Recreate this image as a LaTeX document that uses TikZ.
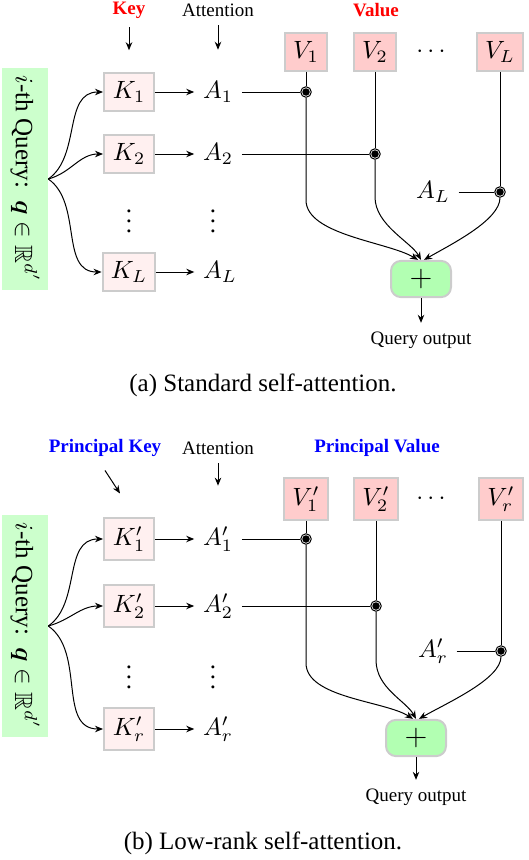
\documentclass[tikz,border=0pt]{standalone}
\usepackage{amsmath,amssymb}
\usepackage{fontspec}
\setmainfont{Liberation Serif}
\usetikzlibrary{arrows.meta,calc,positioning}

\begin{document}
\begin{tikzpicture}[x=0.4pt,y=-0.4pt,
	lab/.style={font=\fontsize{7.6}{9}\selectfont},
	kbox/.style={draw=black!20,thick,fill=red!6,minimum width=20pt},
	vbox/.style={draw=black!20,thick,fill=red!20},
	qbox/.style={fill=green!20,rotate=-90,minimum width=86.8pt,minimum height=18pt},
	sumbox/.style={draw=black!20,thick,fill=green!30,rounded corners=4pt,minimum width=24pt,minimum height=13.6pt},
	jn/.style={circle,draw,inner sep=0pt,minimum size=4.2pt,path picture={\fill (path picture bounding box.center) circle (1.5pt);}},
	arr/.style={-{Stealth[length=3.2pt,width=2.6pt]}}]
			
			\useasboundingbox (0,0) rectangle (528,860);
			
			% (a) standard self-attention
			\node[lab,red] (key) at (129,10) {\bfseries Key};
			\node[lab] (att) at (218,10) {Attention};
			\node[lab,red] (val) at (376,10) {\bfseries Value};
			
			\node[qbox] (Q) at (25,179) {$i$-th Query:\ \ $\boldsymbol{q}\in\mathbb{R}^{d'}$};
			\node[kbox] (K1) at (129,92) {$K_1$};
			\node[kbox] (K2) at (129,154) {$K_2$};
			\node (Kd) at (129,214) {$\vdots$};
			\node[kbox] (KL) at (129,272) {$K_L$};
			\node (A1) at (218,92) {$A_1$};
			\node (A2) at (218,154) {$A_2$};
			\node (Ad) at (213,214) {$\vdots$};
			\node (AL) at (220,272) {$A_L$};
			
			\node[vbox] (V1) at (306,52) {$V_1$};
			\node[vbox] (V2) at (375,52) {$V_2$};
			\node (Vd) at (433,52) {$\cdots$};
			\node[vbox] (VL) at (500,52) {$V_L$};
			\node (AL2) at (433,192) {$A_L$};
			\node[jn] (J1) at (V1 |- A1) {};
			\node[jn] (J2) at (V2 |- A2) {};
			\node[jn] (J3) at (VL |- AL2) {};
			\node[sumbox] (P) at (421,279) {\large$+$};
			\node[lab] (out) at (421,340) {Query output};
			\node (capA) at (263,385) {(a) Standard self-attention.};
			
			\draw[arr,shorten >=8.8pt] (key) -- (K1);
			\draw[arr,shorten >=9.2pt] (att) -- (A1);
			\draw[arr] (Q.north) to[out=35,in=180] (K1);
			\draw[arr] (Q.north) to[out=15,in=180] (K2);
			\draw[arr] (Q.north) to[out=-35,in=180] (KL);
			\draw[arr] (K1) -- (A1);
			\draw[arr] (K2) -- (A2);
			\draw[arr] (KL) -- (AL);
			\draw (A1) -- (J1);
			\draw (A2) -- (J2);
			\draw (AL2) -- (J3);
			\draw (V1) -- (J1);
			\draw (V2) -- (J2);
			\draw (VL) -- (J3);
			\draw[arr] (J1) -- ++(0,108) .. controls +(0,35) and +(-30,-18) .. ([xshift=-1.2pt]P.north);
			\draw[arr] (J2) -- ++(0,43) .. controls +(0,28) and +(-10,-18) .. (P.north);
			\draw[arr] (J3) .. controls +(0,28) and +(28,-16) .. ([xshift=1.2pt]P.north);
			\draw[arr] (P) -- (out);
			
			% (b) low-rank self-attention
			\node[lab,blue] (pkey) at (105,448) {\bfseries Principal Key};
			\node[lab] (att2) at (218,448) {Attention};
			\node[lab,blue] (pval) at (377,448) {\bfseries Principal Value};
			
			\node[qbox] (Q2) at (25,626) {$i$-th Query:\ \ $\boldsymbol{q}\in\mathbb{R}^{d'}$};
			\node[kbox] (Kp1) at (129,539) {$K'_1$};
			\node[kbox] (Kp2) at (129,606) {$K'_2$};
			\node (Kpd) at (129,670) {$\vdots$};
			\node[kbox] (Kpr) at (129,729) {$K'_r$};
			\node (Ap1) at (218,539) {$A'_1$};
			\node (Ap2) at (218,606) {$A'_2$};
			\node (Apd) at (213,670) {$\vdots$};
			\node (Apr) at (218,729) {$A'_r$};
			
			\node[vbox] (Vp1) at (306,499) {$V'_1$};
			\node[vbox] (Vp2) at (376,499) {$V'_2$};
			\node (Vpd) at (433,499) {$\cdots$};
			\node[vbox] (Vpr) at (501,499) {$V'_r$};
			\node (Apr2) at (433,651) {$A'_r$};
			\node[jn] (Jp1) at (Vp1 |- Ap1) {};
			\node[jn] (Jp2) at (Vp2 |- Ap2) {};
			\node[jn] (Jp3) at (Vpr |- Apr2) {};
			\node[sumbox] (Pp) at (416,738) {\large$+$};
			\node[lab] (outp) at (416,797) {Query output};
			\node (capB) at (263,843) {(b) Low-rank self-attention.};
			
			\draw[arr] (pkey.south) ++(0,5) -- ++(15,23);
			\draw[arr,shorten >=12.8pt] (att2) -- (Ap1);
			\draw[arr] (Q2.north) to[out=35,in=180] (Kp1);
			\draw[arr] (Q2.north) to[out=15,in=180] (Kp2);
			\draw[arr] (Q2.north) to[out=-35,in=180] (Kpr);
			\draw[arr] (Kp1) -- (Ap1);
			\draw[arr] (Kp2) -- (Ap2);
			\draw[arr] (Kpr) -- (Apr);
			\draw (Ap1) -- (Jp1);
			\draw (Ap2) -- (Jp2);
			\draw (Apr2) -- (Jp3);
			\draw (Vp1) -- (Jp1);
			\draw (Vp2) -- (Jp2);
			\draw (Vpr) -- (Jp3);
			\draw[arr] (Jp1) -- ++(0,124) .. controls +(0,35) and +(-28,-18) .. ([xshift=-1.2pt]Pp.north);
			\draw[arr] (Jp2) -- ++(0,54) .. controls +(0,28) and +(-10,-18) .. (Pp.north);
			\draw[arr] (Jp3) .. controls +(0,28) and +(28,-16) .. ([xshift=1.2pt]Pp.north);
			\draw[arr] (Pp) -- (outp);
			
		\end{tikzpicture}
\end{document}
